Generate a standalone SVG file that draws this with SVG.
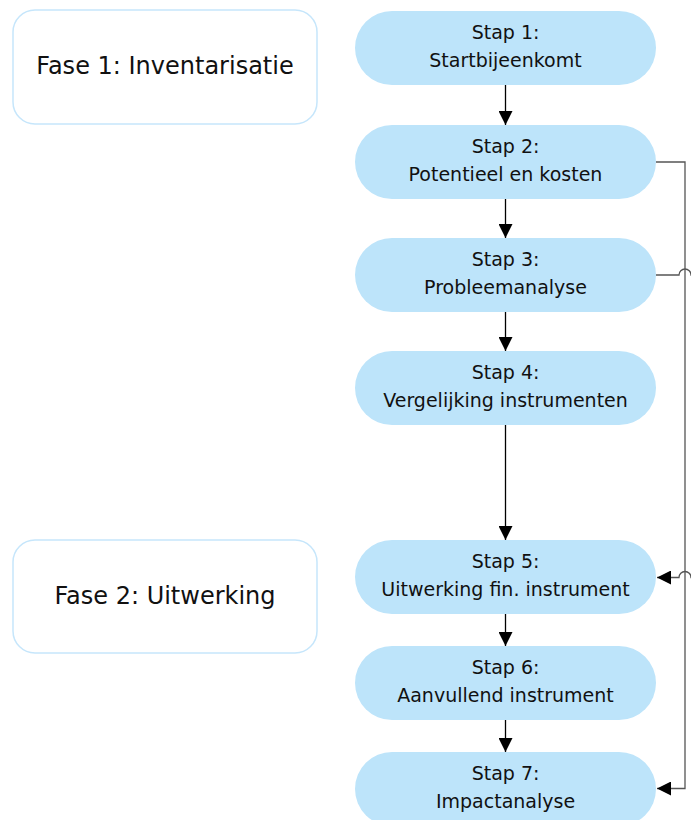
<svg xmlns="http://www.w3.org/2000/svg" width="691" height="820" viewBox="0 0 691 820">
<style>
.node{fill:#bde4fa;stroke:none}
.phase{fill:#ffffff;stroke:#c6e6fb;stroke-width:1.5}
.t{font-family:"DejaVu Sans",sans-serif;font-size:19px;fill:#111;text-anchor:middle}
.pt{font-family:"DejaVu Sans",sans-serif;font-size:24px;fill:#111;text-anchor:middle}
.c{fill:none;stroke:#000;stroke-width:1.3}
.s{fill:none;stroke:#555;stroke-width:1.3}
</style>
<defs>
<marker id="ah" markerWidth="14" markerHeight="14" viewBox="0 0 14 14" refX="14" refY="7" orient="auto" markerUnits="userSpaceOnUse">
<path d="M0,0 L14,7 L0,14 Z" fill="#000"/>
</marker>
</defs>
<rect width="691" height="820" fill="#fff"/>
<g id="fase1"><rect class="phase" x="13" y="10" width="304" height="114" rx="22"/><text class="pt" x="165" y="74">Fase 1: Inventarisatie</text></g>
<g id="fase2"><rect class="phase" x="13" y="540" width="304" height="113" rx="22"/><text class="pt" x="165" y="604">Fase 2: Uitwerking</text></g>
<g id="stap1"><rect class="node" x="355" y="11" width="301" height="74" rx="37"/><text class="t" x="505.5" y="39">Stap 1:</text><text class="t" x="505.5" y="67">Startbijeenkomt</text></g>
<g id="stap2"><rect class="node" x="355" y="125" width="301" height="74" rx="37"/><text class="t" x="505.5" y="153">Stap 2:</text><text class="t" x="505.5" y="181">Potentieel en kosten</text></g>
<g id="stap3"><rect class="node" x="355" y="238" width="301" height="74" rx="37"/><text class="t" x="505.5" y="266">Stap 3:</text><text class="t" x="505.5" y="294">Probleemanalyse</text></g>
<g id="stap4"><rect class="node" x="355" y="351" width="301" height="74" rx="37"/><text class="t" x="505.5" y="379">Stap 4:</text><text class="t" x="505.5" y="407">Vergelijking instrumenten</text></g>
<g id="stap5"><rect class="node" x="355" y="540" width="301" height="74" rx="37"/><text class="t" x="505.5" y="568">Stap 5:</text><text class="t" x="505.5" y="596">Uitwerking fin. instrument</text></g>
<g id="stap6"><rect class="node" x="355" y="646" width="301" height="74" rx="37"/><text class="t" x="505.5" y="674">Stap 6:</text><text class="t" x="505.5" y="702">Aanvullend instrument</text></g>
<g id="stap7"><rect class="node" x="355" y="752" width="301" height="74" rx="37"/><text class="t" x="505.5" y="780">Stap 7:</text><text class="t" x="505.5" y="808">Impactanalyse</text></g>
<g id="connectors">
<path class="c" d="M505.5,85 V125" marker-end="url(#ah)"/>
<path class="c" d="M505.5,199 V238" marker-end="url(#ah)"/>
<path class="c" d="M505.5,312 V351" marker-end="url(#ah)"/>
<path class="c" d="M505.5,425 V540" marker-end="url(#ah)"/>
<path class="c" d="M505.5,614 V646" marker-end="url(#ah)"/>
<path class="c" d="M505.5,720 V752" marker-end="url(#ah)"/>
<path class="s" d="M656,162 H685 V788.5 H657" marker-end="url(#ah)"/>
<path class="s" d="M656,275 H679 A6,6 0 0 1 691,275 H697 V577.5 H691 A6,6 0 0 0 679,577.5 H657" marker-end="url(#ah)"/>
</g>
</svg>
